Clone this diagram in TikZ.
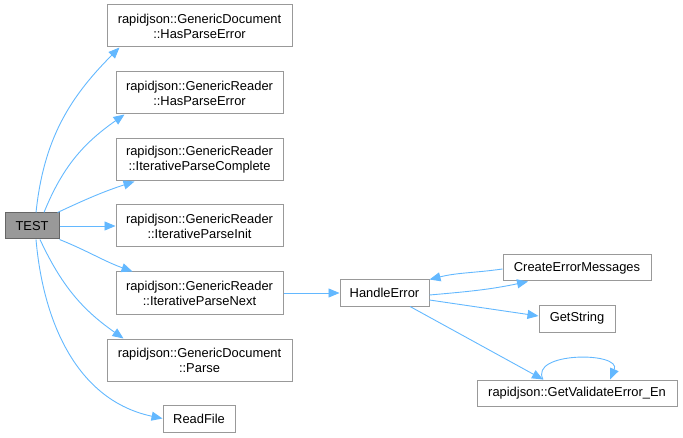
\documentclass[tikz,border=0pt]{standalone}
\usepackage{fontspec}
\setmainfont{Liberation Sans}
\usepackage{xcolor}
\usepackage{tikz}
\usetikzlibrary{arrows.meta}

\definecolor{edgeblue}{HTML}{63B8FF}
\definecolor{boxgray}{HTML}{999999}
\definecolor{darkbox}{HTML}{666666}

\begin{document}
\begin{tikzpicture}[x=1pt,y=1pt,
  fn/.style={draw=boxgray,fill=white,line width=1pt,inner sep=0pt,align=center,
    font=\fontsize{12.9}{15}\selectfont},
  root/.style={fn,draw=darkbox,fill=boxgray},
  call/.style={draw=edgeblue,line width=0.9pt,-{Triangle[length=11pt,width=9pt]}}]
  \useasboundingbox (0,0) rectangle (683,437);

  \node[root,minimum width=54,minimum height=26] (test) at (32,211) {TEST};

  \node[fn,minimum width=185,minimum height=42] (docerr) at (199.5,411) {rapidjson::GenericDocument\\::HasParseError};
  \node[fn,minimum width=167,minimum height=42] (rdrerr) at (199.5,344) {rapidjson::GenericReader\\::HasParseError};
  \node[fn,minimum width=167,minimum height=42] (ipcomplete) at (199.5,277) {rapidjson::GenericReader\\::IterativeParseComplete};
  \node[fn,minimum width=167,minimum height=42] (ipinit) at (199.5,211) {rapidjson::GenericReader\\::IterativeParseInit};
  \node[fn,minimum width=167,minimum height=42] (ipnext) at (199.5,144) {rapidjson::GenericReader\\::IterativeParseNext};
  \node[fn,minimum width=185,minimum height=42] (docparse) at (199.5,77) {rapidjson::GenericDocument\\::Parse};
  \node[fn,minimum width=72,minimum height=27] (readfile) at (199,18.5) {ReadFile};

  \node[fn,minimum width=89,minimum height=26] (handle) at (384.5,144) {HandleError};
  \node[fn,minimum width=148,minimum height=26] (cem) at (577,169) {CreateErrorMessages};
  \node[fn,minimum width=76,minimum height=27] (getstr) at (577,118.5) {GetString};
  \node[fn,minimum width=200,minimum height=26] (gve) at (577,44) {rapidjson::GetValidateError\_En};

  % calls from TEST
  \draw[call] ([xshift=4]test.north) to[out=84,in=-135] ([xshift=13]docerr.south west);
  \draw[call] ([xshift=12]test.north) to[out=68,in=-145] ([xshift=9]rdrerr.south west);
  \draw[call] ([xshift=-2]test.north east) to[out=25,in=-162] ([xshift=19]ipcomplete.south west);
  \draw[call] (test.east) -- (ipinit.west);
  \draw[call] (test.south east) to[out=-22,in=160] ([xshift=17]ipnext.north west);
  \draw[call] ([xshift=8]test.south) to[out=-65,in=145] ([xshift=17]docparse.north west);
  \draw[call] ([xshift=4]test.south) to[out=-85,in=168] (readfile.west);

  % calls further down
  \draw[call] (ipnext.east) -- (handle.west);
  \draw[call] ([yshift=-2]handle.east) to[out=5,in=192] ([xshift=-49]cem.south);
  \draw[call] ([yshift=-1]cem.west) to[out=188,in=14] (handle.north east);
  \draw[call] ([yshift=-7]handle.east) -- ([yshift=2.5]getstr.west);
  \draw[call] ([xshift=25.5]handle.south) -- ([xshift=-34]gve.north);
  \draw[call] ([xshift=-34]gve.north) .. controls +(-14,28) and +(12,28) .. ([xshift=33]gve.north);
\end{tikzpicture}
\end{document}
